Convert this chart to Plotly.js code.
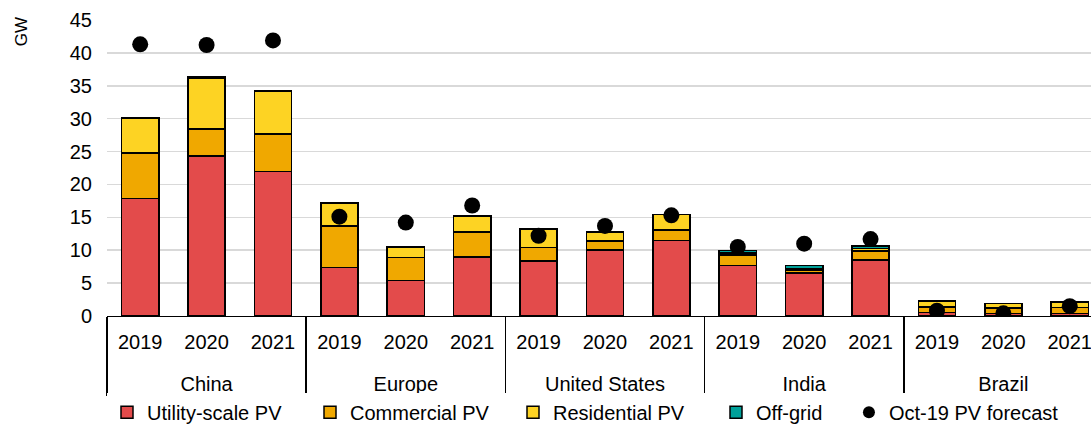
<!DOCTYPE html>
<html>
<head>
<meta charset="utf-8">
<script src="https://cdn.plot.ly/plotly-3.0.1.min.js"></script>
<style>
html,body{margin:0;padding:0;background:#fff;overflow:hidden;}
#chart{width:1091px;height:425px;}
</style>
</head>
<body>
<div id="chart"></div>
<script>
const countries = ["China","China","China","Europe","Europe","Europe","United States","United States","United States","India","India","India","Brazil","Brazil","Brazil"];
const years = ["2019","2020","2021","2019","2020","2021","2019","2020","2021","2019","2020","2021","2019","2020","2021"];
const utilityPV = [17.9, 24.3, 22.0, 7.4, 5.4, 9.0, 8.4, 10.0, 11.5, 7.7, 6.5, 8.5, 0.5, 0.4, 0.4];
const commercialPV = [6.9, 4.1, 5.7, 6.3, 3.5, 3.8, 2.0, 1.4, 1.6, 1.6, 0.5, 1.4, 0.9, 0.8, 0.9];
const residentialPV = [5.3, 7.8, 6.5, 3.5, 1.6, 2.4, 2.8, 1.4, 2.3, 0.25, 0.25, 0.35, 0.9, 0.7, 0.8];
const offGrid = [0.1, 0.1, 0.1, 0, 0, 0, 0, 0, 0, 0.4, 0.4, 0.4, 0, 0, 0];
const forecast = [41.3, 41.2, 41.9, 15.1, 14.2, 16.8, 12.2, 13.7, 15.3, 10.5, 11.0, 11.7, 0.8, 0.4, 1.5];

// group labels are pushed one line lower to match the reference spacing
const x = [countries.map(c => "<br>" + c), years];
const outline = {color: "#000000", width: 1.5};
function barTrace(name, vals, color) {
  return {type: "bar", name: name, x: x, y: vals, legend: "legend",
          marker: {color: color, line: outline}, hoverinfo: "y+name"};
}
const data = [
  barTrace("Utility-scale PV", utilityPV, "#E34B4B"),
  barTrace("Commercial PV", commercialPV, "#F0A800"),
  barTrace("Residential PV", residentialPV, "#FDD323"),
  barTrace("Off-grid", offGrid, "#00A19A"),
  {type: "scatter", mode: "markers", name: "Oct-19 PV forecast", x: x, y: forecast, legend: "legend2",
   marker: {color: "#000000", size: 16}}
];

const fam = "Liberation Sans, Arial, sans-serif";
const font = {family: fam, size: 20, color: "#000000"};
const layout = {
  width: 1091, height: 425,
  margin: {l: 107, r: 0, t: 20, b: 109},
  paper_bgcolor: "#ffffff", plot_bgcolor: "#ffffff",
  font: font,
  barmode: "stack",
  bargap: 0.44,
  showlegend: true,
  xaxis: {
    type: "multicategory",
    range: [-0.5, 14.32],
    showline: true, linecolor: "#000000", linewidth: 1,
    showgrid: false, ticks: "",
    ticklabelstandoff: 8,
    showdividers: true, dividercolor: "#000000", dividerwidth: 1.5,
    tickfont: font
  },
  yaxis: {
    range: [0, 45],
    dtick: 5,
    showgrid: true, gridcolor: "#D9D9D9", gridwidth: 1.5,
    zeroline: false, showline: false, ticks: "",
    ticklabelstandoff: 14,
    tickfont: font
  },
  legend: {
    orientation: "h", x: 0.0, xanchor: "left",
    yref: "container", y: 0.03, yanchor: "middle",
    font: {family: fam, size: 20, color: "#000"},
    traceorder: "normal", entrywidth: 158, entrywidthmode: "pixels",
    itemwidth: 30
  },
  legend2: {
    orientation: "h", x: 0.754, xanchor: "left",
    yref: "container", y: 0.03, yanchor: "middle",
    font: {family: fam, size: 20, color: "#000"},
    itemsizing: "constant"
  },
  annotations: [{
    text: "GW", xref: "paper", yref: "paper", x: -0.087, y: 0.96,
    xanchor: "center", yanchor: "middle", textangle: -90, showarrow: false,
    font: {family: fam, size: 17, color: "#000"}
  }]
};
Plotly.newPlot("chart", data, layout, {displayModeBar: false, staticPlot: true});
</script>
</body>
</html>
